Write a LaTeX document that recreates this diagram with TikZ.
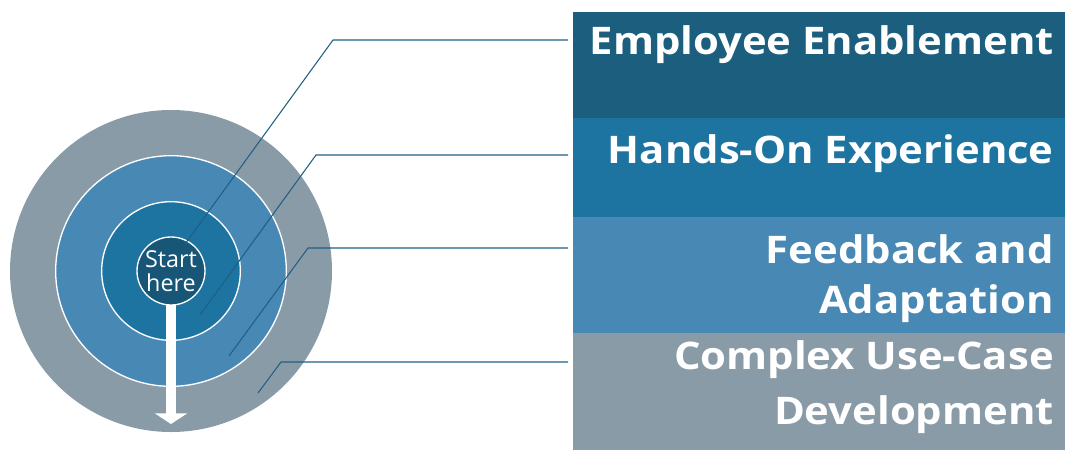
\documentclass[tikz,border=0pt]{standalone}
\usepackage{fontspec}
\setmainfont{Open Sans}
\newfontfamily\bandfont[FakeStretch=1.1]{Open Sans}
\usetikzlibrary{arrows.meta, positioning}

\definecolor{ringgray}{HTML}{8A9BA8}
\definecolor{ringmid}{HTML}{4888B5}
\definecolor{ringdeep}{HTML}{1D74A1}
\definecolor{coredark}{HTML}{175677}
\definecolor{topblue}{HTML}{1B5E7E}
\definecolor{leadblue}{HTML}{1F6084}

\tikzset{
  ring/.style={circle, inner sep=0pt, outer sep=0pt},
  band/.style={rectangle, inner sep=0pt, outer sep=0pt, minimum width=369pt},
  bandtext/.style={text=white, font=\bandfont\fontsize{28.5}{37.5}\selectfont\bfseries, align=right, inner sep=0pt},
  lead/.style={draw=leadblue, line width=0.8pt, shorten <=3.75pt},
}

\begin{document}
\begin{tikzpicture}[x=0.75pt, y=-0.75pt]
\useasboundingbox (0,0) rectangle (1067,451);

% target rings
\node[ring, fill=ringgray, minimum size=241.5pt] (outer) at (171,271) {};
\node[ring, fill=ringmid, draw=white, line width=1pt, minimum size=173pt] (mid) at (171,271) {};
\node[ring, fill=ringdeep, draw=white, line width=1pt, minimum size=104pt] (deep) at (171,271) {};
\node[ring, fill=coredark, draw=white, line width=1pt, minimum size=51pt, inner sep=-4pt, text=white, align=center, font=\fontsize{17.5}{18}\selectfont] (core) at (171,271) {Start\\here};

\coordinate (tip) at (171,424);
\draw[white, line width=7.5pt, -{Triangle[width=24pt, length=8pt]}] (core.south) -- (tip);

% bands on the right
\node[band, fill=topblue, minimum height=79.5pt, anchor=north west] (b1) at (573,12) {};
\node[band, fill=ringdeep, minimum height=74.25pt, below=0pt of b1] (b2) {};
\node[band, fill=ringmid, minimum height=87pt, below=0pt of b2] (b3) {};
\node[band, fill=ringgray, minimum height=87.75pt, below=0pt of b3] (b4) {};

\node[bandtext, anchor=base east] (t1) at (1054,54) {Employee Enablement};
\node[bandtext, anchor=base east] (t2) at (1054,163) {Hands-On Experience};
\node[bandtext, anchor=base east] (t3) at (1054,313) {Feedback and\\Adaptation};
\node[bandtext, anchor=base east, font=\bandfont\fontsize{28.5}{41}\selectfont\bfseries] (t4) at (1054,424) {Complex Use-Case\\Development};

% leader lines
\coordinate (k1) at (333,40);  \coordinate (e1) at (185,244);
\coordinate (k2) at (316,155); \coordinate (e2) at (200,315);
\coordinate (k3) at (308,248); \coordinate (e3) at (229,356);
\coordinate (k4) at (281,362); \coordinate (e4) at (258,393);

\draw[lead] (b1.west |- k1) -- (k1) -- (e1);
\draw[lead] (b2.west |- k2) -- (k2) -- (e2);
\draw[lead] (b3.west |- k3) -- (k3) -- (e3);
\draw[lead] (b4.west |- k4) -- (k4) -- (e4);
\end{tikzpicture}
\end{document}
